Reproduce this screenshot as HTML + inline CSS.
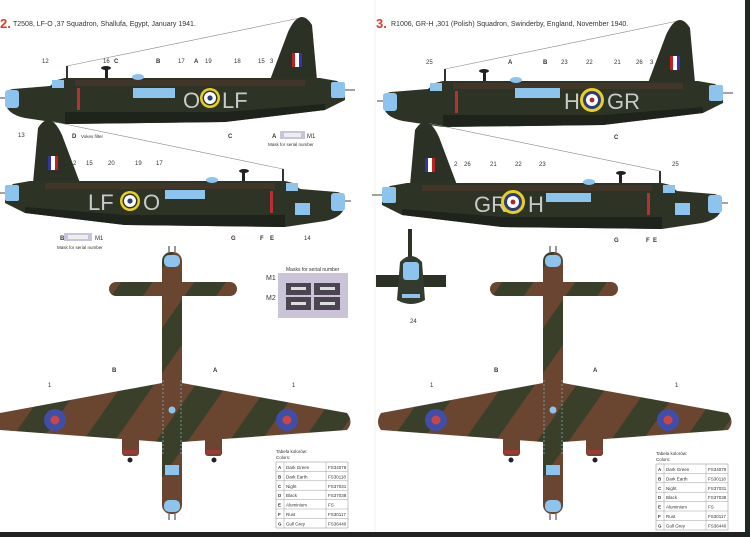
<!DOCTYPE html>
<html><head><meta charset="utf-8"><style>
html,body{margin:0;padding:0;background:#fff;}
svg{display:block;font-family:"Liberation Sans",sans-serif;}
</style></head><body>
<svg width="750" height="537" viewBox="0 0 750 537" xmlns="http://www.w3.org/2000/svg">
<defs>
<pattern id="camo" width="60" height="60" patternUnits="userSpaceOnUse" patternTransform="rotate(35)">
<rect width="60" height="60" fill="#6a4631"/><rect width="26" height="60" fill="#3a3f2a"/>
</pattern>
<pattern id="sidec" width="80" height="60" patternUnits="userSpaceOnUse">
<rect width="80" height="60" fill="#2c3325"/><ellipse cx="40" cy="6" rx="30" ry="4" fill="#4a3526"/>
</pattern>
<g id="side">
<line x1="62" y1="66" x2="295" y2="18" stroke="#888" stroke-width="0.6"/>
<rect x="61" y="66" width="2" height="13" fill="#333"/>
<path d="M265,80 L283,32 Q295,6 307,25 L312,80 Z" fill="#2b3124"/>
<path d="M0,100 Q0,90 8,89 L45,86 L52,80 L60,78 L315,78 L332,81 L340,88 L340,100 L320,110 L220,122 L60,124 L20,118 Q0,114 0,100 Z" fill="#2d3426"/>
<path d="M70,80 L300,80 L300,86 L70,86 Z" fill="#4a3828" opacity="0.7"/>
<path d="M60,112 L220,112 L320,104 L320,110 L220,122 L60,124 Z" fill="#1e231b"/>
<rect x="0" y="90" width="14" height="18" rx="3" fill="#8cc4ee"/>
<rect x="326" y="82" width="14" height="16" rx="2" fill="#8cc4ee"/>
<rect x="47" y="80" width="12" height="8" fill="#8cc4ee"/>
<line x1="340" y1="90" x2="350" y2="90" stroke="#444"/>
<line x1="0" y1="98" x2="-6" y2="98" stroke="#444"/>
<rect x="287" y="53" width="10" height="14" fill="#b22"/><rect x="290" y="53" width="4" height="14" fill="#fff"/><rect x="294" y="53" width="3" height="14" fill="#33a"/>
<rect x="72" y="88" width="3" height="22" fill="#b83030"/>
<ellipse cx="133" cy="77" rx="6" ry="3" fill="#8cc4ee"/>
<rect x="100" y="68" width="3" height="10" fill="#222"/><ellipse cx="101" cy="68" rx="5" ry="2" fill="#222"/>
</g>
<g id="top">
<rect x="-63" y="282" width="128" height="14" rx="7" fill="url(#camo)"/>
<path d="M-172,413 L-10,383 L10,383 L175,413 Q182,422 175,430 L10,442 L-10,442 L-172,430 Q-178,422 -172,413 Z" fill="url(#camo)"/>
<rect x="-50" y="400" width="17" height="56" rx="3" fill="url(#camo)"/>
<rect x="33" y="400" width="17" height="56" rx="3" fill="url(#camo)"/>
<rect x="-49" y="450" width="15" height="4" fill="#a03838"/><rect x="34" y="450" width="15" height="4" fill="#a03838"/>
<circle cx="-42" cy="460" r="2.5" fill="#222"/><circle cx="42" cy="460" r="2.5" fill="#222"/>
<rect x="-10" y="252" width="20" height="262" rx="9" fill="url(#camo)"/>
<rect x="-8" y="255" width="16" height="12" rx="5" fill="#8cc4ee"/>
<rect x="-8" y="500" width="16" height="12" rx="5" fill="#8cc4ee"/>
<rect x="-7" y="465" width="14" height="10" fill="#8cc4ee"/>
<line x1="-3" y1="252" x2="-3" y2="246" stroke="#333"/><line x1="3" y1="252" x2="3" y2="246" stroke="#333"/>
<line x1="-3" y1="514" x2="-3" y2="520" stroke="#333"/><line x1="3" y1="514" x2="3" y2="520" stroke="#333"/>
<circle cx="0" cy="410" r="3.5" fill="#8cc4ee"/>
<line x1="-9" y1="380" x2="-9" y2="455" stroke="#7ab" stroke-dasharray="2,2" stroke-width="0.8"/>
<line x1="9" y1="380" x2="9" y2="455" stroke="#7ab" stroke-dasharray="2,2" stroke-width="0.8"/>
<circle cx="-117" cy="420" r="11" fill="#3f4ea8"/><circle cx="-117" cy="420" r="4.5" fill="#c44"/>
<circle cx="115" cy="420" r="11" fill="#3f4ea8"/><circle cx="115" cy="420" r="4.5" fill="#c44"/>
</g>
<g id="table" font-size="4.5" fill="#333">
<text x="0" y="5">Tabela kolorów:</text><text x="0" y="11">Colors:</text>
<rect x="0" y="14" width="72" height="66" fill="none" stroke="#888" stroke-width="0.5"/>
<g stroke="#888" stroke-width="0.4"><line x1="8" y1="14" x2="8" y2="80"/><line x1="50" y1="14" x2="50" y2="80"/>
<line x1="0" y1="23.4" x2="72" y2="23.4"/><line x1="0" y1="32.8" x2="72" y2="32.8"/><line x1="0" y1="42.2" x2="72" y2="42.2"/><line x1="0" y1="51.6" x2="72" y2="51.6"/><line x1="0" y1="61" x2="72" y2="61"/><line x1="0" y1="70.4" x2="72" y2="70.4"/></g>
<g font-weight="bold"><text x="2" y="21">A</text><text x="2" y="30.4">B</text><text x="2" y="39.8">C</text><text x="2" y="49.2">D</text><text x="2" y="58.6">E</text><text x="2" y="68">F</text><text x="2" y="77.4">G</text></g>
<text x="10" y="21">Dark Green</text><text x="10" y="30.4">Dark Earth</text><text x="10" y="39.8">Night</text><text x="10" y="49.2">Black</text><text x="10" y="58.6">Aluminium</text><text x="10" y="68">Rust</text><text x="10" y="77.4">Gull Grey</text>
<text x="52" y="21">FS34079</text><text x="52" y="30.4">FS30118</text><text x="52" y="39.8">FS37031</text><text x="52" y="49.2">FS37038</text><text x="52" y="58.6">FS</text><text x="52" y="68">FS30117</text><text x="52" y="77.4">FS36440</text>
</g>
</defs>

<!-- page edges -->
<rect x="745" y="0" width="5" height="537" fill="#1c2a22"/>
<rect x="0" y="532" width="750" height="5" fill="#222"/>
<line x1="375" y1="0" x2="375" y2="532" stroke="#f2f2f2"/>

<!-- titles -->
<text x="0" y="28" font-size="13" font-weight="bold" fill="#e03a2a">2.</text>
<text x="13" y="26" font-size="7" fill="#333">T2508, LF-O ,37 Squadron, Shallufa, Egypt, January 1941.</text>
<text x="376" y="28" font-size="13" font-weight="bold" fill="#e03a2a">3.</text>
<text x="391" y="26" font-size="7" fill="#333">R1006, GR-H ,301 (Polish) Squadron, Swinderby, England, November 1940.</text>

<!-- side views -->
<use href="#side" transform="translate(5,0)"/>
<use href="#side" transform="translate(345,103) scale(-1,1)"/>
<use href="#side" transform="translate(383,3)"/>
<use href="#side" transform="translate(722,105) scale(-1,1)"/>

<!-- markings plane 2 A -->
<g fill="#8cc4ee"><rect x="133" y="88" width="42" height="10"/></g>
<text x="183" y="108" font-size="22" fill="#c9c9c9">O</text>
<circle cx="210" cy="98" r="10" fill="#e8d020"/><circle cx="210" cy="98" r="7.5" fill="#2d3426"/><circle cx="210" cy="98" r="6" fill="#fff"/><circle cx="210" cy="98" r="2.6" fill="#2c3a80"/>
<text x="222" y="108" font-size="22" fill="#c9c9c9">LF</text>
<!-- plane 2 B -->
<rect x="165" y="190" width="40" height="9" fill="#8cc4ee"/>
<text x="88" y="210" font-size="22" fill="#c9c9c9">LF</text>
<circle cx="130" cy="201" r="10" fill="#e8d020"/><circle cx="130" cy="201" r="7.5" fill="#2d3426"/><circle cx="130" cy="201" r="6" fill="#fff"/><circle cx="130" cy="201" r="2.6" fill="#2c3a80"/>
<text x="143" y="210" font-size="22" fill="#c9c9c9">O</text>
<rect x="295" y="203" width="15" height="12" fill="#8cc4ee"/>
<!-- plane 3 A -->
<rect x="515" y="88" width="45" height="10" fill="#8cc4ee"/>
<text x="564" y="109" font-size="22" fill="#c9c9c9">H</text>
<circle cx="592" cy="100" r="12" fill="#e8d020"/><circle cx="592" cy="100" r="9" fill="#2c3a80"/><circle cx="592" cy="100" r="6" fill="#fff"/><circle cx="592" cy="100" r="2.4" fill="#a22"/>
<text x="607" y="109" font-size="22" fill="#c9c9c9">GR</text>
<!-- plane 3 B -->
<rect x="546" y="193" width="45" height="9" fill="#8cc4ee"/>
<text x="474" y="212" font-size="22" fill="#c9c9c9">GR</text>
<circle cx="513" cy="202" r="12" fill="#e8d020"/><circle cx="513" cy="202" r="9" fill="#2c3a80"/><circle cx="513" cy="202" r="6" fill="#fff"/><circle cx="513" cy="202" r="2.4" fill="#a22"/>
<text x="528" y="212" font-size="22" fill="#c9c9c9">H</text>
<rect x="675" y="203" width="15" height="12" fill="#8cc4ee"/>

<!-- labels -->
<g font-size="6" fill="#333">
<text x="42" y="63">12</text><text x="103" y="63">16</text><text x="114" y="63" font-weight="bold">C</text><text x="156" y="63" font-weight="bold">B</text><text x="178" y="63">17</text><text x="194" y="63" font-weight="bold">A</text><text x="205" y="63">19</text><text x="234" y="63">18</text><text x="258" y="63">15</text><text x="270" y="63">3</text>
<text x="18" y="137">13</text><text x="72" y="138" font-weight="bold">D</text><text x="81" y="138" font-size="4.5">Vokes filter</text><text x="228" y="138" font-weight="bold">C</text><text x="272" y="138" font-weight="bold">A</text><text x="307" y="138">M1</text><text x="268" y="146" font-size="4.5">Mask for serial number</text>
<text x="73" y="165">2</text><text x="86" y="165">15</text><text x="108" y="165">20</text><text x="135" y="165">19</text><text x="156" y="165">17</text>
<text x="60" y="240" font-weight="bold">B</text><text x="95" y="240">M1</text><text x="57" y="249" font-size="4.5">Mask for serial number</text><text x="231" y="240" font-weight="bold">G</text><text x="260" y="240" font-weight="bold">F</text><text x="270" y="240" font-weight="bold">E</text><text x="304" y="240">14</text>
<text x="426" y="64">25</text><text x="508" y="64" font-weight="bold">A</text><text x="543" y="64" font-weight="bold">B</text><text x="561" y="64">23</text><text x="586" y="64">22</text><text x="614" y="64">21</text><text x="636" y="64">26</text><text x="650" y="64">3</text>
<text x="614" y="139" font-weight="bold">C</text>
<text x="454" y="166">2</text><text x="464" y="166">26</text><text x="490" y="166">21</text><text x="515" y="166">22</text><text x="539" y="166">23</text><text x="672" y="166">25</text>
<text x="614" y="242" font-weight="bold">G</text><text x="646" y="242" font-weight="bold">F</text><text x="653" y="242" font-weight="bold">E</text>
<text x="410" y="323">24</text>
<text x="112" y="372" font-weight="bold">B</text><text x="213" y="372" font-weight="bold">A</text><text x="48" y="387">1</text><text x="292" y="387">1</text>
<text x="494" y="372" font-weight="bold">B</text><text x="593" y="372" font-weight="bold">A</text><text x="430" y="387">1</text><text x="675" y="387">1</text>
</g>
<rect x="280" y="131" width="25" height="8" fill="#c9c4da"/><rect x="284" y="133" width="17" height="4" fill="#eee"/>
<rect x="64" y="233" width="28" height="8" fill="#c9c4da"/><rect x="68" y="235" width="20" height="4" fill="#eee"/>

<!-- front view -->
<rect x="408" y="229" width="4" height="30" fill="#2b3124"/>
<rect x="376" y="275" width="70" height="12" fill="#2b3124"/>
<path d="M400,262 Q411,250 422,262 L425,300 Q411,308 397,300 Z" fill="#333a2e"/>
<rect x="403" y="262" width="16" height="18" rx="3" fill="#8cc4ee"/>
<rect x="402" y="294" width="18" height="4" fill="#8cc4ee"/>

<!-- top views -->
<use href="#top" transform="translate(172,0)"/>
<use href="#top" transform="translate(553,0)"/>

<!-- masks box -->
<text x="286" y="271" font-size="5" fill="#333">Masks for serial number</text>
<rect x="278" y="273" width="70" height="45" fill="#cbc3d8"/>
<rect x="286" y="283" width="25" height="12" fill="#4a4550"/><rect x="314" y="283" width="26" height="12" fill="#4a4550"/>
<rect x="286" y="297" width="25" height="13" fill="#4a4550"/><rect x="314" y="297" width="26" height="13" fill="#4a4550"/>
<g fill="#ddd"><rect x="291" y="287" width="15" height="3"/><rect x="320" y="287" width="15" height="3"/><rect x="291" y="302" width="15" height="3"/><rect x="320" y="302" width="15" height="3"/></g>
<text x="266" y="280" font-size="7" fill="#333">M1</text><text x="266" y="300" font-size="7" fill="#333">M2</text>

<use href="#table" transform="translate(276,448)"/>
<use href="#table" transform="translate(656,450)"/>
</svg>
</body></html>
